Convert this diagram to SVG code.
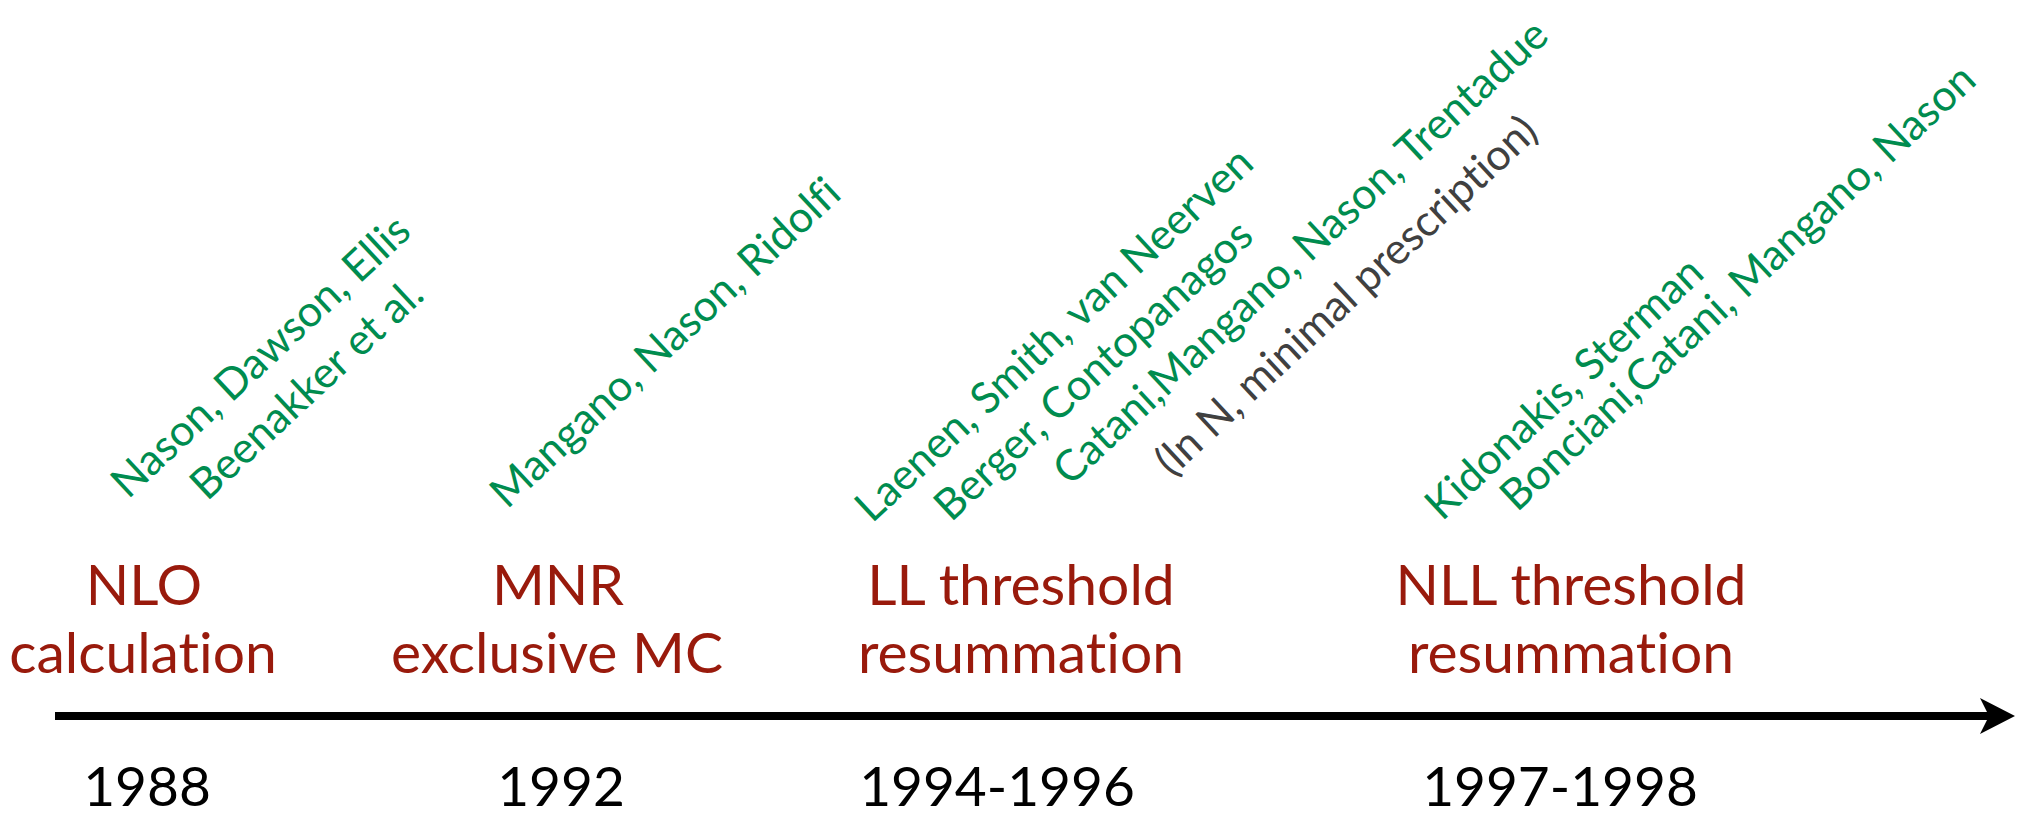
<svg xmlns="http://www.w3.org/2000/svg" width="2023" height="816" viewBox="0 0 2023 816">
<style>
text{font-family:Lato,"Open Sans","Liberation Sans",sans-serif;font-variant-ligatures:none;font-feature-settings:"liga" 0,"clig" 0}
.lbl{font-size:57px;fill:#991a0c;text-anchor:middle}
.yr{font-size:55px;fill:#000;text-anchor:middle}
.au{font-size:43px;fill:#008c4f}
.gr{fill:#404040}
</style>
<rect width="2023" height="816" fill="#fff"/>
<g id="connectors">
<line x1="55" y1="716" x2="1990" y2="716" stroke="#000" stroke-width="8"/>
<polygon points="1980,698 2015,716 1980,734 1989,716" fill="#000"/>
</g>
<g id="nlo">
<text class="lbl" x="144" y="605">NLO</text>
<text class="lbl" x="143" y="673">calculation</text>
<text class="yr" x="147" y="806">1988</text>
</g>
<g id="mnr">
<text class="lbl" x="558" y="605">MNR</text>
<text class="lbl" x="557" y="673">exclusive MC</text>
<text class="yr" x="561" y="806">1992</text>
</g>
<g id="ll">
<text class="lbl" x="1021" y="605">LL threshold</text>
<text class="lbl" x="1021" y="673">resummation</text>
<text class="yr" x="997" y="806">1994-1996</text>
</g>
<g id="nll">
<text class="lbl" x="1571" y="605">NLL threshold</text>
<text class="lbl" x="1571" y="673">resummation</text>
<text class="yr" x="1560" y="806">1997-1998</text>
</g>
<g id="authors-1988">
<text class="au" transform="translate(128,500) rotate(-43)">Nason, Dawson, Ellis</text>
<text class="au" transform="translate(207,502) rotate(-43)">Beenakker et al.</text>
</g>
<g id="authors-1992">
<text class="au" transform="translate(507,510) rotate(-43)">Mangano, Nason, Ridolfi</text>
</g>
<g id="authors-1994">
<text class="au" transform="translate(872,524) rotate(-43)">Laenen, Smith, van Neerven</text>
<text class="au" transform="translate(951,523) rotate(-43)">Berger, Contopanagos</text>
<text class="au" transform="translate(1070,487) rotate(-43)">Catani,Mangano, Nason, Trentadue</text>
<text class="au gr" transform="translate(1172,478) rotate(-43)">(ln N, minimal prescription)</text>
</g>
<g id="authors-1997">
<text class="au" transform="translate(1442,522) rotate(-43)">Kidonakis, Sterman</text>
<text class="au" transform="translate(1517,513) rotate(-43)">Bonciani,Catani, Mangano, Nason</text>
</g>
</svg>
